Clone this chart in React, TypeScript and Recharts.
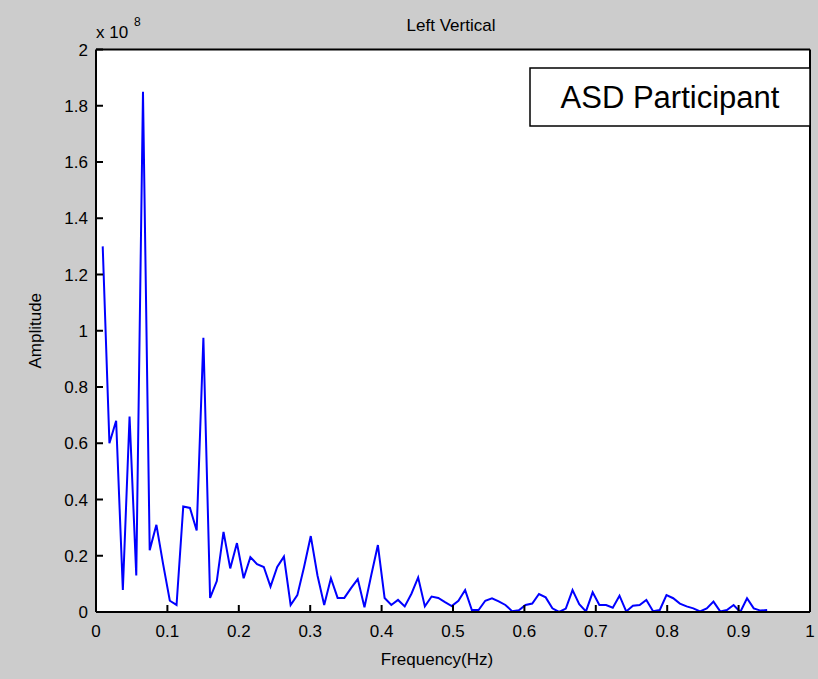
import { LineChart, Line, XAxis, YAxis, CartesianGrid, Label } from 'recharts';

const FONT = 'Arial, "Liberation Sans", sans-serif';

// FFT bin frequencies (Hz)
const frequencyHz = [
  0.0094, 0.0188, 0.0282, 0.0376, 0.047, 0.0564, 0.0658, 0.0752, 0.0846, 0.094,
  0.1034, 0.1128, 0.1222, 0.1316, 0.141, 0.1504, 0.1598, 0.1692, 0.1786, 0.188,
  0.1974, 0.2068, 0.2162, 0.2256, 0.235, 0.2444, 0.2538, 0.2632, 0.2726, 0.282,
  0.2914, 0.3008, 0.3102, 0.3196, 0.329, 0.3384, 0.3478, 0.3572, 0.3666, 0.376,
  0.3854, 0.3948, 0.4042, 0.4136, 0.423, 0.4324, 0.4418, 0.4512, 0.4606, 0.47,
  0.4794, 0.4888, 0.4982, 0.5076, 0.517, 0.5264, 0.5358, 0.5452, 0.5546, 0.564,
  0.5734, 0.5828, 0.5922, 0.6016, 0.611, 0.6204, 0.6298, 0.6392, 0.6486, 0.658,
  0.6674, 0.6768, 0.6862, 0.6956, 0.705, 0.7144, 0.7238, 0.7332, 0.7426, 0.752,
  0.7614, 0.7708, 0.7802, 0.7896, 0.799, 0.8084, 0.8178, 0.8272, 0.8366, 0.846,
  0.8554, 0.8648, 0.8742, 0.8836, 0.893, 0.9024, 0.9118, 0.9212, 0.9306, 0.94,
];

// amplitude spectrum, in units of 1e8
const amplitudeE8 = [
  1.30, 0.60, 0.68, 0.078, 0.695, 0.13, 1.85, 0.22, 0.31, 0.17,
  0.04, 0.025, 0.375, 0.37, 0.29, 0.975, 0.05, 0.11, 0.285, 0.155,
  0.245, 0.12, 0.195, 0.17, 0.16, 0.09, 0.16, 0.197, 0.025, 0.06,
  0.16, 0.27, 0.13, 0.025, 0.12, 0.05, 0.05, 0.085, 0.117, 0.017,
  0.13, 0.238, 0.05, 0.025, 0.043, 0.02, 0.065, 0.123, 0.02, 0.055,
  0.05, 0.035, 0.021, 0.04, 0.078, 0.007, 0.007, 0.04, 0.049, 0.038,
  0.025, 0.003, 0.006, 0.025, 0.03, 0.064, 0.052, 0.013, 0.0, 0.012,
  0.078, 0.028, 0.002, 0.07, 0.025, 0.025, 0.015, 0.058, 0.002, 0.022,
  0.025, 0.043, 0.003, 0.007, 0.06, 0.049, 0.03, 0.02, 0.013, 0.002,
  0.013, 0.037, 0.002, 0.007, 0.025, 0.0, 0.049, 0.013, 0.005, 0.007,
];

const xTicks = [0, 0.1, 0.2, 0.3, 0.4, 0.5, 0.6, 0.7, 0.8, 0.9, 1];
const yTicks = [0, 0.2, 0.4, 0.6, 0.8, 1, 1.2, 1.4, 1.6, 1.8, 2];

const data = frequencyHz.map((f, i) => ({ f, a: amplitudeE8[i] }));

const axisLine = { stroke: '#000', strokeWidth: 2 };
const tickLine = { stroke: '#000', strokeWidth: 2 };
const tickStyle = { fill: '#000', fontSize: 17, fontFamily: FONT };

export default function App() {
  return (
    <div
      style={{
        position: 'absolute',
        left: 0,
        top: 0,
        width: 818,
        height: 679,
        background: '#cccccc',
        fontFamily: FONT,
      }}
    >
      <LineChart
        width={818}
        height={679}
        data={data}
        margin={{ top: 48.5, right: 7, bottom: 0, left: 0 }}
      >
        <CartesianGrid fill="#ffffff" horizontal={false} vertical={false} />
        <XAxis
          dataKey="f"
          type="number"
          domain={[0, 1]}
          ticks={xTicks}
          allowDataOverflow
          height={67}
          tickSize={-7}
          tickMargin={20}
          axisLine={axisLine}
          tickLine={tickLine}
          tick={tickStyle}
        >
          <Label
            value="Frequency(Hz)"
            position="insideBottom"
            offset={14}
            dx={-16}
            style={{ fill: '#000', fontSize: 17, fontFamily: FONT }}
          />
        </XAxis>
        <XAxis
          xAxisId="top"
          orientation="top"
          type="number"
          domain={[0, 1]}
          ticks={xTicks}
          allowDataOverflow
          height={1}
          tickSize={-7}
          axisLine={axisLine}
          tickLine={tickLine}
          tick={false}
        />
        <YAxis
          type="number"
          domain={[0, 2]}
          ticks={yTicks}
          allowDataOverflow
          width={96}
          tickSize={-7}
          tickMargin={15}
          axisLine={axisLine}
          tickLine={tickLine}
          tick={tickStyle}
        >
          <Label
            value="Amplitude"
            angle={-90}
            position="insideLeft"
            offset={35}
            style={{ fill: '#000', fontSize: 17, fontFamily: FONT, textAnchor: 'middle' }}
          />
        </YAxis>
        <YAxis
          yAxisId="right"
          orientation="right"
          type="number"
          domain={[0, 2]}
          ticks={yTicks}
          allowDataOverflow
          width={1}
          tickSize={-7}
          axisLine={axisLine}
          tickLine={tickLine}
          tick={false}
        />
        <Line
          type="linear"
          dataKey="a"
          stroke="#0000ff"
          strokeWidth={2}
          dot={false}
          isAnimationActive={false}
        />
      </LineChart>
      <svg
        width={818}
        height={679}
        style={{ position: 'absolute', left: 0, top: 0, pointerEvents: 'none' }}
        fontFamily={FONT}
      >
        <text x={451} y={31} textAnchor="middle" fontSize={17} fill="#000">
          Left Vertical
        </text>
        <text x={96} y={38} fontSize={17} fill="#000">
          x 10
        </text>
        <text x={134} y={26} fontSize={12} fill="#000">
          8
        </text>
        <rect x={530} y={68} width={280} height={58} fill="#fff" stroke="#000" strokeWidth={1.5} />
        <text x={670} y={108} textAnchor="middle" fontSize={31} fill="#000">
          ASD Participant
        </text>
      </svg>
    </div>
  );
}
